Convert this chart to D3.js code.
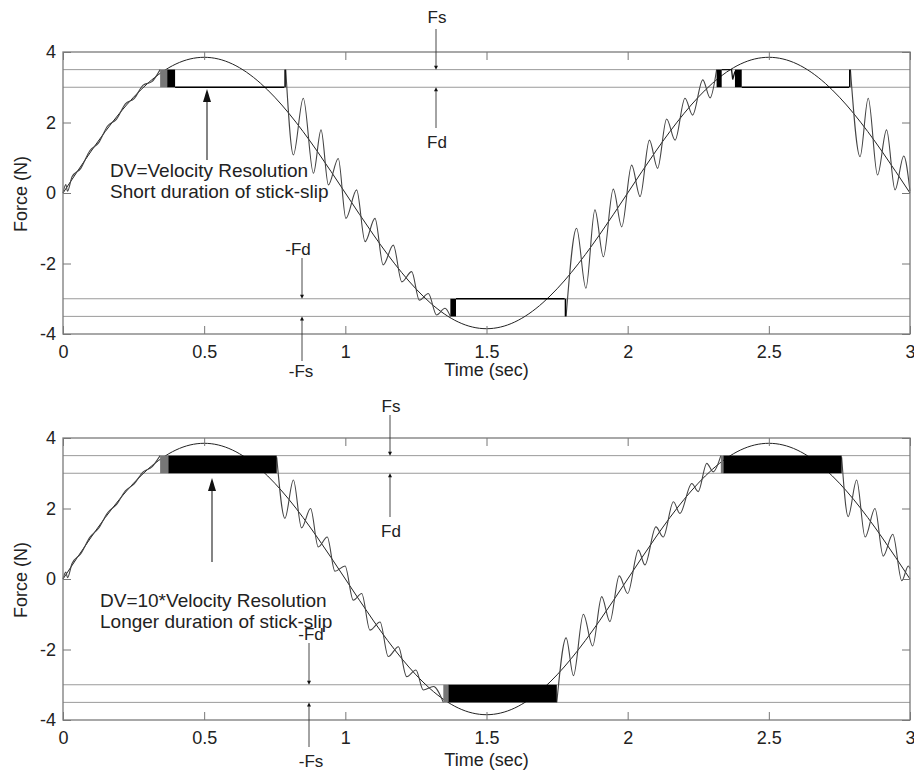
<!DOCTYPE html>
<html><head><meta charset="utf-8">
<script src="https://cdn.jsdelivr.net/npm/d3@7"></script>
<style>
body{margin:0;background:#fff}
svg{display:block}
text{font-family:"Liberation Sans",Arial,Helvetica,sans-serif;fill:#222}
</style>
</head><body>
<svg id="c" width="914" height="775"></svg>
<script>
// ---------- data ----------
const xTicks = [0, 0.5, 1, 1.5, 2, 2.5, 3];
const xTickLabels = ["0", "0.5", "1", "1.5", "2", "2.5", "3"];
const yTicks = [-4, -2, 0, 2, 4];
const yTickLabels = ["-4", "-2", "0", "2", "4"];
const frictionLevels = [3.5, 3.0, -3.0, -3.5];   // Fs, Fd, -Fd, -Fs

// applied (reference) force, read at 0.1 s steps
const refTime  = [0,0.1,0.2,0.3,0.4,0.5,0.6,0.7,0.8,0.9,1.0,1.1,1.2,1.3,1.4,1.5,1.6,1.7,1.8,1.9,2.0,2.1,2.2,2.3,2.4,2.5,2.6,2.7,2.8,2.9,3.0];
const refForce = [0,1.19,2.26,3.11,3.66,3.85,3.66,3.11,2.26,1.19,0,-1.19,-2.26,-3.11,-3.66,-3.85,-3.66,-3.11,-2.26,-1.19,0,1.19,2.26,3.11,3.66,3.85,3.66,3.11,2.26,1.19,0];

// ---- top panel: DV = velocity resolution ----
const topRise  = [[0,0],[0.010,0.24],[0.016,0.05],[0.032,0.46],[0.063,0.70],[0.095,1.20],[0.126,1.42],[0.158,1.90],[0.189,2.09],[0.221,2.53],[0.252,2.68],[0.284,3.06],[0.315,3.16],[0.344,3.50]];
const topFall1 = [[0.789,3.50],[0.816,1.08],[0.851,2.69],[0.887,0.56],[0.914,1.79],[0.940,0.23],[0.975,0.98],[1.002,-0.72],[1.040,0.09],[1.070,-1.38],[1.105,-0.72],[1.134,-2.04],[1.170,-1.48],[1.200,-2.52],[1.235,-2.23],[1.262,-3.04],[1.294,-2.85],[1.323,-3.46],[1.353,-3.27],[1.372,-3.50]];
const topRise2 = [[1.782,-3.50],[1.819,-1.00],[1.852,-2.70],[1.884,-0.48],[1.914,-1.81],[1.949,0.11],[1.979,-0.96],[2.014,0.79],[2.044,-0.10],[2.077,1.50],[2.106,0.70],[2.138,2.10],[2.168,1.50],[2.203,2.69],[2.230,2.21],[2.266,3.21],[2.292,2.70],[2.315,3.50]];
const topFall2 = [[2.789,3.50],[2.823,1.03],[2.852,2.69],[2.885,0.51],[2.917,1.79],[2.947,0.09],[2.978,1.05],[3.000,0.05]];
const topHook  = [[2.333,3.50],[2.368,3.50],[2.372,3.22],[2.380,3.45]];
const topStickStart = [0.397, 1.392, 2.404];
const topStickEnd   = [0.784, 1.777, 2.784];
const topStickLevel = [3.0, -3.0, 3.0];
const topChatterStart = [0.344, 0.369, 0.784, 1.372, 1.777, 2.315, 2.380, 2.784];
const topChatterEnd   = [0.369, 0.397, 0.789, 1.392, 1.782, 2.333, 2.404, 2.789];
const topChatterLow   = [3.0, 3.0, 3.0, -3.5, -3.5, 3.0, 3.0, 3.0];
const topChatterHigh  = [3.5, 3.5, 3.5, -3.0, -3.0, 3.5, 3.5, 3.5];
const topChatterDense = [0, 1, 1, 1, 1, 1, 1, 1];

// ---- bottom panel: DV = 10 * velocity resolution ----
const botRise  = [[0,0],[0.010,0.20],[0.016,0.04],[0.032,0.44],[0.063,0.72],[0.095,1.18],[0.126,1.44],[0.158,1.88],[0.189,2.11],[0.221,2.50],[0.252,2.70],[0.284,3.04],[0.315,3.18],[0.344,3.50]];
const botFall1 = [[0.757,3.45],[0.786,1.72],[0.816,2.81],[0.845,1.45],[0.877,2.00],[0.904,0.91],[0.936,1.19],[0.963,0.22],[0.999,0.37],[1.028,-0.60],[1.058,-0.41],[1.087,-1.45],[1.123,-1.22],[1.152,-2.20],[1.188,-1.92],[1.217,-2.77],[1.250,-2.58],[1.276,-3.15],[1.312,-3.05],[1.347,-3.50]];
const botRise2 = [[1.749,-3.50],[1.782,-1.67],[1.808,-2.74],[1.843,-1.00],[1.876,-1.90],[1.908,-0.50],[1.937,-1.21],[1.970,0.09],[2.000,-0.41],[2.038,0.82],[2.061,0.40],[2.100,1.48],[2.126,1.19],[2.162,2.19],[2.185,1.86],[2.227,2.71],[2.250,2.48],[2.280,3.28],[2.303,3.04],[2.330,3.50]];
const botFall2 = [[2.758,3.45],[2.781,1.77],[2.811,2.81],[2.841,1.19],[2.876,2.00],[2.905,0.65],[2.939,1.27],[2.971,-0.05],[2.994,0.37],[3.000,0.30]];
const botChatterStart = [0.344, 0.373, 1.347, 1.365, 2.330, 2.339];
const botChatterEnd   = [0.373, 0.757, 1.365, 1.749, 2.339, 2.758];
const botChatterLow   = [3.0, 3.0, -3.5, -3.5, 3.0, 3.0];
const botChatterHigh  = [3.5, 3.5, -3.0, -3.0, 3.5, 3.5];
const botChatterDense = [0, 1, 0, 1, 0, 1];

const axisLabelX = "Time (sec)";
const axisLabelY = "Force (N)";

// ---------- drawing ----------
const svg = d3.select("#c");
const x = d3.scaleLinear().domain([0, 3]).range([63, 910]);
const refPts = refTime.map((t, i) => [t, refForce[i]]);

const panels = [
  { y0: 52, y1: 334,
    curves: [topRise, topFall1, topRise2, topFall2], hooks: [topHook],
    stick: { s: topStickStart, e: topStickEnd, l: topStickLevel },
    chat: { s: topChatterStart, e: topChatterEnd, lo: topChatterLow, hi: topChatterHigh, d: topChatterDense },
    text: ["DV=Velocity Resolution", "Short duration of stick-slip"],
    textX: 110, textY: [177, 197.5],
    bigArrow: { x: 207, from: 160, tip: 89 },
    fs: { x: 436, label: 23, from: 29 }, fd: { x: 436, label: 148, from: 128 },
    mfd: { x: 302, lx: 298, label: 255, from: 258 }, mfs: { x: 302, lx: 301, label: 377, from: 361 },
    timeY: 376, forceY: 194 },
  { y0: 438, y1: 720,
    curves: [botRise, botFall1, botRise2, botFall2], hooks: [],
    stick: { s: [], e: [], l: [] },
    chat: { s: botChatterStart, e: botChatterEnd, lo: botChatterLow, hi: botChatterHigh, d: botChatterDense },
    text: ["DV=10*Velocity Resolution", "Longer duration of stick-slip"],
    textX: 100, textY: [606.5, 627.5],
    bigArrow: { x: 212, from: 562, tip: 478 },
    fs: { x: 390, label: 412, from: 415 }, fd: { x: 390, label: 537, from: 517 },
    mfd: { x: 309, lx: 311, label: 640, from: 643 }, mfs: { x: 309, lx: 311, label: 767, from: 747 },
    timeY: 766, forceY: 580 }
];

function arrow(g, xp, yFrom, yTip, len, half, w) {
  const dir = yTip > yFrom ? 1 : -1;
  g.append("line").attr("x1", xp).attr("x2", xp).attr("y1", yFrom).attr("y2", yTip - dir * len * 0.6)
    .attr("stroke", "#333").attr("stroke-width", w);
  g.append("path").attr("d", `M${xp},${yTip}L${xp - half},${yTip - dir * len}L${xp + half},${yTip - dir * len}Z`)
    .attr("fill", "#111");
}

panels.forEach(p => {
  const y = d3.scaleLinear().domain([-4, 4]).range([p.y1, p.y0]);
  const g = svg.append("g");

  // friction level lines
  g.selectAll("line.lvl").data(frictionLevels).join("line").attr("class", "lvl")
    .attr("x1", x(0)).attr("x2", x(3)).attr("y1", d => y(d)).attr("y2", d => y(d))
    .attr("stroke", "#9a9a9a").attr("stroke-width", 1);

  // reference sine
  g.append("path").datum(refPts)
    .attr("d", d3.line().x(d => x(d[0])).y(d => y(d[1])).curve(d3.curveNatural))
    .attr("fill", "none").attr("stroke", "#222").attr("stroke-width", 1);

  // measured friction force
  const mono = d3.line().x(d => x(d[0])).y(d => y(d[1])).curve(d3.curveMonotoneX);
  const lin = d3.line().x(d => x(d[0])).y(d => y(d[1]));
  p.curves.forEach(c => g.append("path").datum(c).attr("d", mono)
    .attr("fill", "none").attr("stroke", "#444").attr("stroke-width", 1.1));
  p.hooks.forEach(c => g.append("path").datum(c).attr("d", lin)
    .attr("fill", "none").attr("stroke", "#111").attr("stroke-width", 1.3));

  // stick segments at Fd
  p.stick.s.forEach((s, i) => g.append("line")
    .attr("x1", x(s)).attr("x2", x(p.stick.e[i]))
    .attr("y1", y(p.stick.l[i])).attr("y2", y(p.stick.l[i]))
    .attr("stroke", "#000").attr("stroke-width", 1.7));

  // stick-slip chatter bands
  p.chat.s.forEach((s, i) => g.append("rect")
    .attr("x", x(s)).attr("width", Math.max(1.5, x(p.chat.e[i]) - x(s)))
    .attr("y", y(p.chat.hi[i])).attr("height", y(p.chat.lo[i]) - y(p.chat.hi[i]))
    .attr("fill", p.chat.d[i] ? "#000" : "#777"));

  // axes (inward ticks on all sides)
  const styleAxis = a => {
    a.select(".domain").remove();
    a.selectAll(".tick line").attr("stroke", "#777").attr("stroke-width", 1);
    a.selectAll("text").attr("font-size", 18).attr("fill", "#222")
      .attr("font-family", '"Liberation Sans",Arial,sans-serif');
  };
  g.append("g").attr("transform", `translate(0,${p.y1})`)
    .call(d3.axisBottom(x).tickValues(xTicks).tickFormat((d, i) => xTickLabels[i]).tickSize(-8).tickSizeOuter(0).tickPadding(11))
    .call(styleAxis);
  g.append("g").attr("transform", `translate(0,${p.y0})`)
    .call(d3.axisTop(x).tickValues(xTicks).tickFormat("").tickSize(-8).tickSizeOuter(0))
    .call(styleAxis);
  g.append("g").attr("transform", `translate(${x(0)},0)`)
    .call(d3.axisLeft(y).tickValues(yTicks).tickFormat((d, i) => yTickLabels[i]).tickSize(-8).tickSizeOuter(0).tickPadding(7))
    .call(styleAxis);
  g.append("g").attr("transform", `translate(${x(3)},0)`)
    .call(d3.axisRight(y).tickValues(yTicks).tickFormat("").tickSize(-8).tickSizeOuter(0))
    .call(styleAxis);

  // frame
  g.append("rect").attr("x", x(0)).attr("y", p.y0).attr("width", x(3) - x(0)).attr("height", p.y1 - p.y0)
    .attr("fill", "none").attr("stroke", "#7a7a7a").attr("stroke-width", 1.3);

  // axis labels
  g.append("text").attr("x", x(1.5)).attr("y", p.timeY).attr("text-anchor", "middle")
    .attr("font-size", 18).text(axisLabelX);
  g.append("text").attr("transform", `translate(27,${p.forceY}) rotate(-90)`).attr("text-anchor", "middle")
    .attr("font-size", 18).text(axisLabelY);

  // annotation text + big arrow
  p.text.forEach((t, i) => g.append("text").attr("x", p.textX).attr("y", p.textY[i])
    .attr("font-size", 19).text(t));
  arrow(g, p.bigArrow.x, p.bigArrow.from, p.bigArrow.tip, 13, 4, 1.2);

  // Fs / Fd markers
  arrow(g, p.fs.x, p.fs.from, y(3.5), 4, 2, 0.9);
  arrow(g, p.fd.x, p.fd.from, y(3.0), 4, 2, 0.9);
  arrow(g, p.mfd.x, p.mfd.from, y(-3.0), 4, 2, 0.9);
  arrow(g, p.mfs.x, p.mfs.from, y(-3.5), 4, 2, 0.9);
  const lab = (xx, yy, t) => g.append("text").attr("x", xx).attr("y", yy).attr("text-anchor", "middle")
    .attr("font-size", 17).text(t);
  lab(p.fs.x + 1, p.fs.label, "Fs");
  lab(p.fd.x + 1, p.fd.label, "Fd");
  lab(p.mfd.lx, p.mfd.label, "-Fd");
  lab(p.mfs.lx, p.mfs.label, "-Fs");
});
</script>
</body></html>
